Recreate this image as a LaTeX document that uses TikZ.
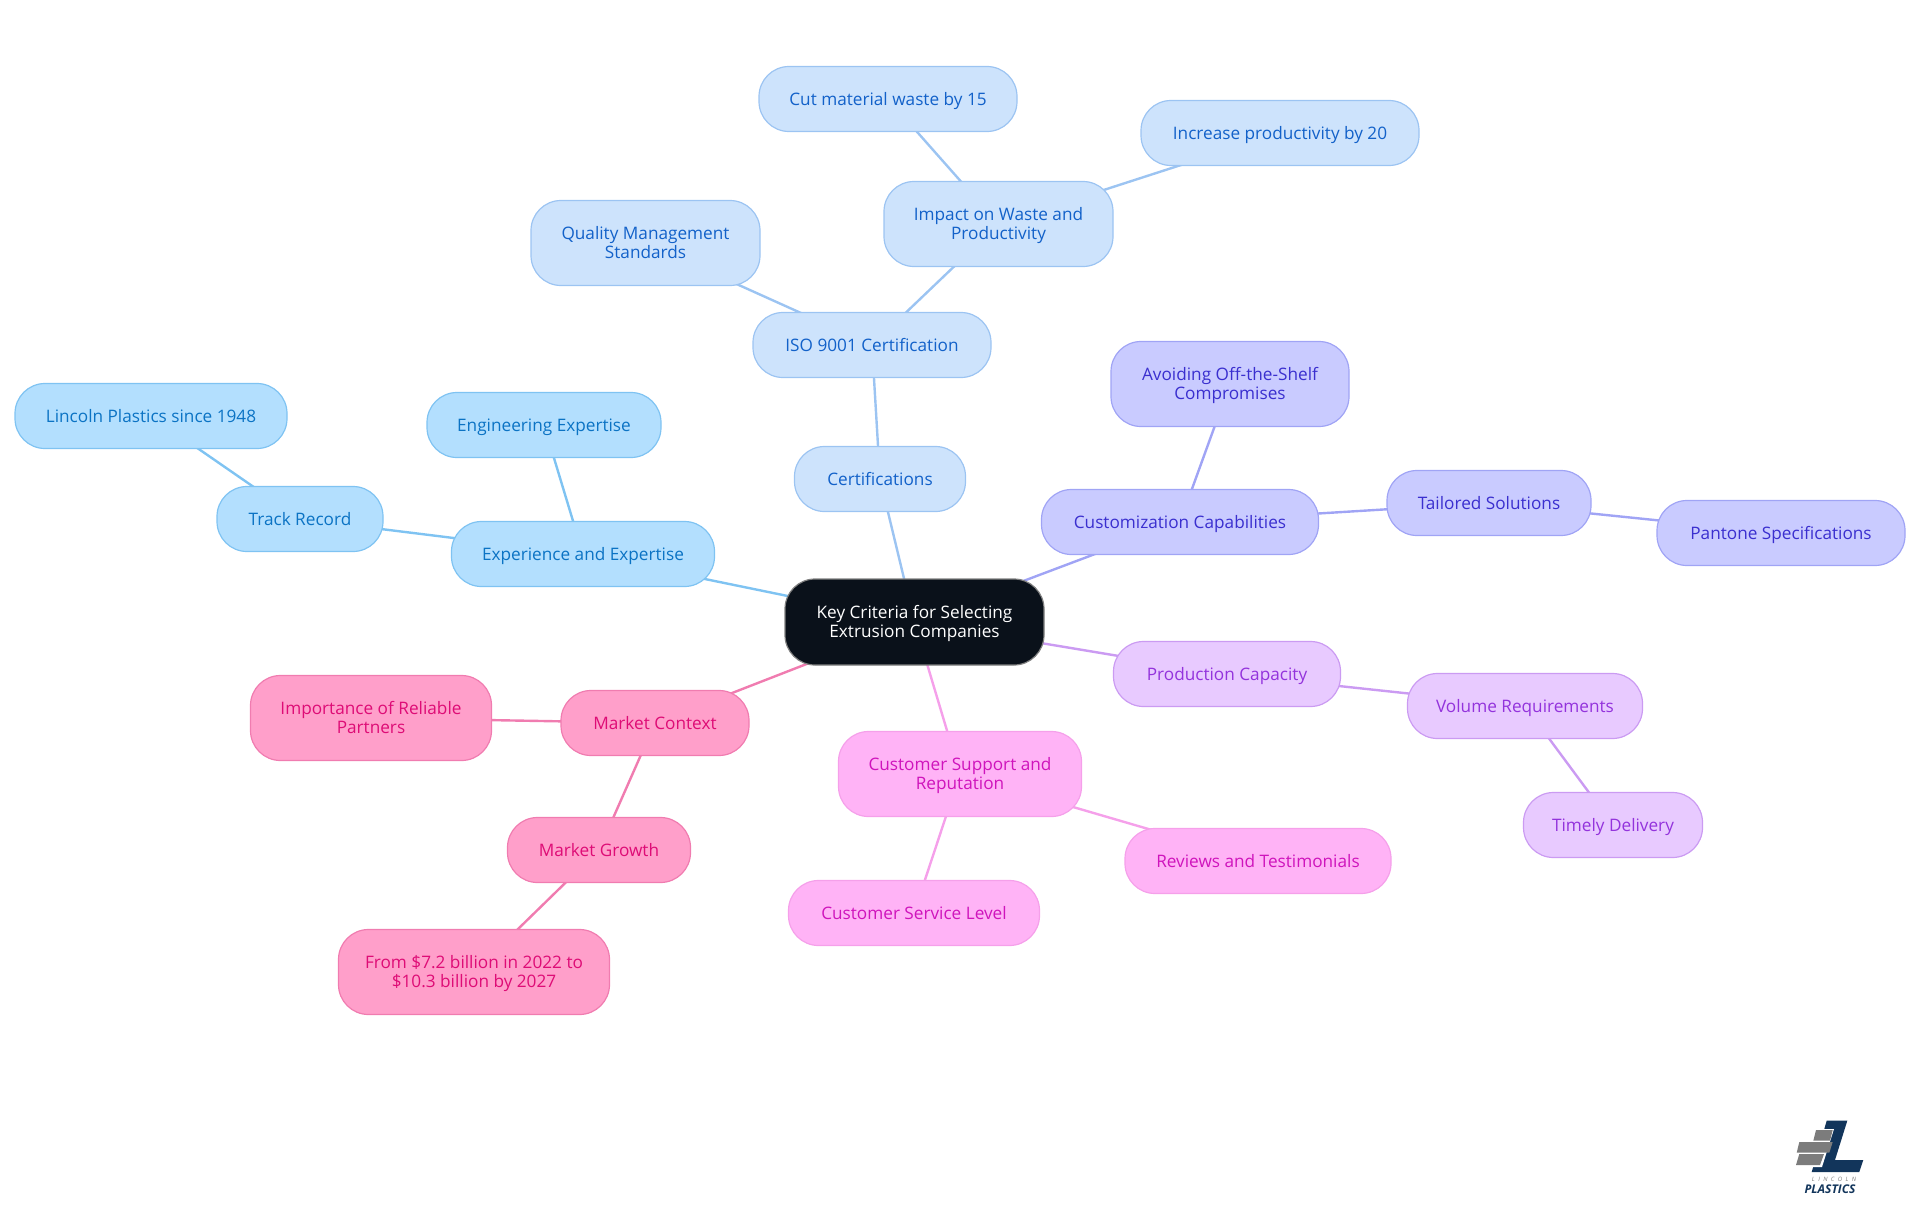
\documentclass[tikz,border=0pt]{standalone}
\usepackage{fontspec}
\setmainfont{Open Sans}
\usetikzlibrary{backgrounds}
\definecolor{rootfill}{HTML}{0A111A}
\definecolor{expfill}{HTML}{B3DFFE}
\definecolor{expline}{HTML}{7FC3F2}
\definecolor{exptext}{HTML}{0B73C4}
\definecolor{certfill}{HTML}{CDE3FC}
\definecolor{certline}{HTML}{9CC4F2}
\definecolor{certtext}{HTML}{1261C9}
\definecolor{custfill}{HTML}{C9CBFF}
\definecolor{custline}{HTML}{A0A4F5}
\definecolor{custtext}{HTML}{3A2FCF}
\definecolor{prodfill}{HTML}{E8CAFF}
\definecolor{prodline}{HTML}{CB9BF2}
\definecolor{prodtext}{HTML}{9333DC}
\definecolor{suppfill}{HTML}{FFB3F6}
\definecolor{suppline}{HTML}{F5A0EA}
\definecolor{supptext}{HTML}{CF14BC}
\definecolor{markfill}{HTML}{FF9FCA}
\definecolor{markline}{HTML}{F07CB0}
\definecolor{marktext}{HTML}{DE0C76}
\definecolor{logoblue}{HTML}{12355B}
\definecolor{logogray}{HTML}{7C7C7C}
\tikzset{
  box/.style={rectangle,rounded corners=30pt,inner sep=0pt,minimum height=65pt,
    line width=1.2pt,align=center,text height=14.5pt,text depth=2pt,
    font=\fontsize{17.2}{19}\selectfont},
  twoline/.style={minimum height=85pt,text height=33.5pt},
  expbox/.style={box,fill=expfill,draw=expline,text=exptext},
  certbox/.style={box,fill=certfill,draw=certline,text=certtext},
  custbox/.style={box,fill=custfill,draw=custline,text=custtext},
  prodbox/.style={box,fill=prodfill,draw=prodline,text=prodtext},
  suppbox/.style={box,fill=suppfill,draw=suppline,text=supptext},
  markbox/.style={box,fill=markfill,draw=markline,text=marktext},
  link/.style={line width=2.4pt}
}
\begin{document}
\begin{tikzpicture}[x=1pt,y=-1pt]
  \useasboundingbox (0,0) rectangle (1920,1215);

  \node[box,twoline,fill=rootfill,draw=gray,text=white,minimum width=259pt,minimum height=86pt] (root) at (914.5,622) {Key Criteria for Selecting\\Extrusion Companies};

  % experience branch
  \node[expbox,minimum width=263pt] (experience) at (583,554) {Experience and Expertise};
  \node[expbox,minimum width=166pt] (track) at (300,519) {Track Record};
  \node[expbox,minimum width=272pt] (lincoln) at (151,416) {Lincoln Plastics since 1948};
  \node[expbox,minimum width=234pt] (engineering) at (544,425) {Engineering Expertise};

  % certification branch
  \node[certbox,minimum width=171pt] (certs) at (880,479) {Certifications};
  \node[certbox,minimum width=238pt] (iso) at (872,345) {ISO 9001 Certification};
  \node[certbox,twoline,minimum width=229pt] (quality) at (645.5,243) {Quality Management\\Standards};
  \node[certbox,twoline,minimum width=229pt] (impact) at (998.5,224) {Impact on Waste and\\Productivity};
  \node[certbox,minimum width=258pt] (waste) at (888,99) {Cut material waste by 15};
  \node[certbox,minimum width=278pt] (productivity) at (1280,133) {Increase productivity by 20};

  % customization branch
  \node[custbox,minimum width=277pt] (custom) at (1180,522) {Customization Capabilities};
  \node[custbox,twoline,minimum width=238pt] (avoiding) at (1230,384) {Avoiding Off-the-Shelf\\Compromises};
  \node[custbox,minimum width=204pt] (tailored) at (1489,503) {Tailored Solutions};
  \node[custbox,minimum width=248pt] (pantone) at (1781,533) {Pantone Specifications};

  % production branch
  \node[prodbox,minimum width=227pt] (production) at (1227,674) {Production Capacity};
  \node[prodbox,minimum width=235pt] (volume) at (1525,706) {Volume Requirements};
  \node[prodbox,minimum width=179pt] (timely) at (1613,825) {Timely Delivery};

  % support branch
  \node[suppbox,twoline,minimum width=243pt] (support) at (960,774) {Customer Support and\\Reputation};
  \node[suppbox,minimum width=266pt] (reviews) at (1258,861) {Reviews and Testimonials};
  \node[suppbox,minimum width=251pt] (service) at (914,913) {Customer Service Level};

  % market branch
  \node[markbox,minimum width=188pt] (market) at (655,723) {Market Context};
  \node[markbox,twoline,minimum width=241pt] (partners) at (371,718) {Importance of Reliable\\Partners};
  \node[markbox,minimum width=183pt] (growth) at (599,850) {Market Growth};
  \node[markbox,twoline,minimum width=271pt] (billion) at (474,972) {From \$7.2 billion in 2022 to\\\$10.3 billion by 2027};

  \begin{scope}[on background layer]
    \foreach \from/\to in {root/experience,experience/track,track/lincoln,experience/engineering}
      \draw[link,expline] (\from.center) -- (\to.center);
    \foreach \from/\to in {root/certs,certs/iso,iso/quality,iso/impact,impact/waste,impact/productivity}
      \draw[link,certline] (\from.center) -- (\to.center);
    \foreach \from/\to in {root/custom,custom/avoiding,custom/tailored,tailored/pantone}
      \draw[link,custline] (\from.center) -- (\to.center);
    \foreach \from/\to in {root/production,production/volume,volume/timely}
      \draw[link,prodline] (\from.center) -- (\to.center);
    \foreach \from/\to in {root/support,support/reviews,support/service}
      \draw[link,suppline] (\from.center) -- (\to.center);
    \foreach \from/\to in {root/market,market/partners,market/growth,growth/billion}
      \draw[link,markline] (\from.center) -- (\to.center);
  \end{scope}

  % logo
  \fill[logoblue] (1826.7,1120.7) -- (1847.3,1120.7) -- (1835,1160) -- (1863.3,1160) -- (1859.3,1172) -- (1811.7,1172) -- cycle;
  \fill[white] (1814,1129) -- (1834,1129) -- (1822,1167) -- (1794,1167) -- (1798,1141) -- (1812,1141) -- cycle;
  \fill[logogray] (1816,1130) -- (1832.7,1130) -- (1830,1140.7) -- (1813.3,1140.7) -- cycle;
  \fill[logogray] (1799.3,1142) -- (1832.7,1142) -- (1829.3,1152.7) -- (1796.7,1152.7) -- cycle;
  \fill[logogray] (1799.3,1154) -- (1824,1154) -- (1820,1165) -- (1796,1165) -- cycle;
  \node[inner sep=0pt,text=logogray,font=\fontsize{6}{6}\selectfont\itshape] (logotop) at (1834,1179) {L\hspace{3.4pt}I\hspace{3.4pt}N\hspace{3.4pt}C\hspace{3.4pt}O\hspace{3.4pt}L\hspace{3.4pt}N};
  \node[inner sep=0pt,text=logoblue,font=\fontsize{12}{12}\selectfont\bfseries\itshape] (logoname) at (1830,1189) {PLASTICS};
\end{tikzpicture}
\end{document}
